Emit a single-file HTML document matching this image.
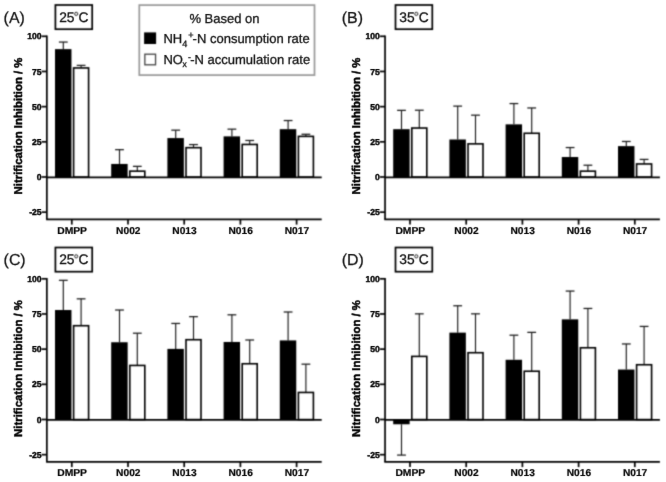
<!DOCTYPE html>
<html><head><meta charset="utf-8"><style>
html,body{margin:0;padding:0;background:#fff;width:666px;height:482px;overflow:hidden}
svg{display:block} text{font-variant-ligatures:none}
</style></head><body>
<svg width="666" height="482" viewBox="0 0 666 482" font-family="Liberation Sans, sans-serif" text-rendering="geometricPrecision">
<defs><filter id="bl" x="0" y="0" width="666" height="482" filterUnits="userSpaceOnUse" color-interpolation-filters="sRGB"><feConvolveMatrix order="3" kernelMatrix="0.03240 0.11520 0.03240 0.11520 0.40960 0.11520 0.03240 0.11520 0.03240" divisor="1" edgeMode="duplicate" preserveAlpha="false"/></filter>
<filter id="bt" x="0" y="0" width="666" height="482" filterUnits="userSpaceOnUse" color-interpolation-filters="sRGB"><feConvolveMatrix order="3" kernelMatrix="0.00360 0.05280 0.00360 0.05280 0.77440 0.05280 0.00360 0.05280 0.00360" divisor="1" edgeMode="duplicate" preserveAlpha="false"/></filter></defs>
<rect width="666" height="482" fill="#fff"/>
<g filter="url(#bl)">
<g transform="translate(0,0)">
<rect x="55.4" y="5.0" width="36.8" height="24.2" fill="none" stroke="#000" stroke-width="1.7"/>
<circle cx="76.20" cy="13.85" r="1.6" fill="none" stroke="#222" stroke-width="1.0"/>
<line x1="63.30" y1="49.13" x2="63.30" y2="42.06" stroke="#1a1a1a" stroke-width="1.15"/>
<line x1="58.90" y1="42.06" x2="67.70" y2="42.06" stroke="#1a1a1a" stroke-width="1.25"/>
<line x1="81.10" y1="67.94" x2="81.10" y2="65.39" stroke="#1a1a1a" stroke-width="1.15"/>
<line x1="76.70" y1="65.39" x2="85.50" y2="65.39" stroke="#1a1a1a" stroke-width="1.25"/>
<rect x="55.00" y="49.13" width="16.45" height="127.97" fill="#000"/>
<rect x="73.60" y="67.94" width="15.0" height="109.16" fill="#fff" stroke="#000" stroke-width="1.6"/>
<line x1="71.80" y1="219.4" x2="71.80" y2="224.6" stroke="#000" stroke-width="1.7"/>
<line x1="119.50" y1="163.95" x2="119.50" y2="149.67" stroke="#1a1a1a" stroke-width="1.15"/>
<line x1="115.10" y1="149.67" x2="123.90" y2="149.67" stroke="#1a1a1a" stroke-width="1.25"/>
<line x1="137.30" y1="171.16" x2="137.30" y2="166.35" stroke="#1a1a1a" stroke-width="1.15"/>
<line x1="132.90" y1="166.35" x2="141.70" y2="166.35" stroke="#1a1a1a" stroke-width="1.25"/>
<rect x="111.20" y="163.95" width="16.45" height="13.15" fill="#000"/>
<rect x="129.80" y="171.16" width="15.0" height="5.94" fill="#fff" stroke="#000" stroke-width="1.6"/>
<line x1="128.00" y1="219.4" x2="128.00" y2="224.6" stroke="#000" stroke-width="1.7"/>
<line x1="175.70" y1="138.07" x2="175.70" y2="130.16" stroke="#1a1a1a" stroke-width="1.15"/>
<line x1="171.30" y1="130.16" x2="180.10" y2="130.16" stroke="#1a1a1a" stroke-width="1.25"/>
<line x1="193.50" y1="147.69" x2="193.50" y2="144.58" stroke="#1a1a1a" stroke-width="1.15"/>
<line x1="189.10" y1="144.58" x2="197.90" y2="144.58" stroke="#1a1a1a" stroke-width="1.25"/>
<rect x="167.40" y="138.07" width="16.45" height="39.03" fill="#000"/>
<rect x="186.00" y="147.69" width="15.0" height="29.41" fill="#fff" stroke="#000" stroke-width="1.6"/>
<line x1="184.20" y1="219.4" x2="184.20" y2="224.6" stroke="#000" stroke-width="1.7"/>
<line x1="231.90" y1="136.38" x2="231.90" y2="129.17" stroke="#1a1a1a" stroke-width="1.15"/>
<line x1="227.50" y1="129.17" x2="236.30" y2="129.17" stroke="#1a1a1a" stroke-width="1.25"/>
<line x1="249.70" y1="144.44" x2="249.70" y2="140.48" stroke="#1a1a1a" stroke-width="1.15"/>
<line x1="245.30" y1="140.48" x2="254.10" y2="140.48" stroke="#1a1a1a" stroke-width="1.25"/>
<rect x="223.60" y="136.38" width="16.45" height="40.72" fill="#000"/>
<rect x="242.20" y="144.44" width="15.0" height="32.66" fill="#fff" stroke="#000" stroke-width="1.6"/>
<line x1="240.40" y1="219.4" x2="240.40" y2="224.6" stroke="#000" stroke-width="1.7"/>
<line x1="288.10" y1="129.17" x2="288.10" y2="120.54" stroke="#1a1a1a" stroke-width="1.15"/>
<line x1="283.70" y1="120.54" x2="292.50" y2="120.54" stroke="#1a1a1a" stroke-width="1.25"/>
<line x1="305.90" y1="136.38" x2="305.90" y2="134.26" stroke="#1a1a1a" stroke-width="1.15"/>
<line x1="301.50" y1="134.26" x2="310.30" y2="134.26" stroke="#1a1a1a" stroke-width="1.25"/>
<rect x="279.80" y="129.17" width="16.45" height="47.93" fill="#000"/>
<rect x="298.40" y="136.38" width="15.0" height="40.72" fill="#fff" stroke="#000" stroke-width="1.6"/>
<line x1="296.60" y1="219.4" x2="296.60" y2="224.6" stroke="#000" stroke-width="1.7"/>
<line x1="46.85" y1="177.29999999999998" x2="321.7" y2="177.29999999999998" stroke="#000" stroke-width="1.7"/>
<line x1="46.1" y1="219.4" x2="321.7" y2="219.4" stroke="#000" stroke-width="1.7"/>
<line x1="46.85" y1="35.55" x2="46.85" y2="219.4" stroke="#000" stroke-width="1.7"/>
<line x1="41.5" y1="36.30" x2="46.85" y2="36.30" stroke="#000" stroke-width="1.7"/>
<line x1="41.5" y1="71.47" x2="46.85" y2="71.47" stroke="#000" stroke-width="1.7"/>
<line x1="41.5" y1="106.65" x2="46.85" y2="106.65" stroke="#000" stroke-width="1.7"/>
<line x1="41.5" y1="141.82" x2="46.85" y2="141.82" stroke="#000" stroke-width="1.7"/>
<line x1="41.5" y1="177.00" x2="46.85" y2="177.00" stroke="#000" stroke-width="1.7"/>
<line x1="41.5" y1="212.18" x2="46.85" y2="212.18" stroke="#000" stroke-width="1.7"/>
</g>
<g transform="translate(338.2,0)">
<rect x="57.30000000000001" y="5.0" width="36.8" height="24.2" fill="none" stroke="#000" stroke-width="1.7"/>
<circle cx="78.10" cy="13.85" r="1.6" fill="none" stroke="#222" stroke-width="1.0"/>
<line x1="63.30" y1="129.17" x2="63.30" y2="110.36" stroke="#1a1a1a" stroke-width="1.15"/>
<line x1="58.90" y1="110.36" x2="67.70" y2="110.36" stroke="#1a1a1a" stroke-width="1.25"/>
<line x1="81.10" y1="128.03" x2="81.10" y2="110.22" stroke="#1a1a1a" stroke-width="1.15"/>
<line x1="76.70" y1="110.22" x2="85.50" y2="110.22" stroke="#1a1a1a" stroke-width="1.25"/>
<rect x="55.00" y="129.17" width="16.45" height="47.93" fill="#000"/>
<rect x="73.60" y="128.03" width="15.0" height="49.07" fill="#fff" stroke="#000" stroke-width="1.6"/>
<line x1="71.80" y1="219.4" x2="71.80" y2="224.6" stroke="#000" stroke-width="1.7"/>
<line x1="119.50" y1="139.49" x2="119.50" y2="106.12" stroke="#1a1a1a" stroke-width="1.15"/>
<line x1="115.10" y1="106.12" x2="123.90" y2="106.12" stroke="#1a1a1a" stroke-width="1.25"/>
<line x1="137.30" y1="143.87" x2="137.30" y2="115.17" stroke="#1a1a1a" stroke-width="1.15"/>
<line x1="132.90" y1="115.17" x2="141.70" y2="115.17" stroke="#1a1a1a" stroke-width="1.25"/>
<rect x="111.20" y="139.49" width="16.45" height="37.61" fill="#000"/>
<rect x="129.80" y="143.87" width="15.0" height="33.23" fill="#fff" stroke="#000" stroke-width="1.6"/>
<line x1="128.00" y1="219.4" x2="128.00" y2="224.6" stroke="#000" stroke-width="1.7"/>
<line x1="175.70" y1="124.36" x2="175.70" y2="103.57" stroke="#1a1a1a" stroke-width="1.15"/>
<line x1="171.30" y1="103.57" x2="180.10" y2="103.57" stroke="#1a1a1a" stroke-width="1.25"/>
<line x1="193.50" y1="133.27" x2="193.50" y2="107.96" stroke="#1a1a1a" stroke-width="1.15"/>
<line x1="189.10" y1="107.96" x2="197.90" y2="107.96" stroke="#1a1a1a" stroke-width="1.25"/>
<rect x="167.40" y="124.36" width="16.45" height="52.74" fill="#000"/>
<rect x="186.00" y="133.27" width="15.0" height="43.83" fill="#fff" stroke="#000" stroke-width="1.6"/>
<line x1="184.20" y1="219.4" x2="184.20" y2="224.6" stroke="#000" stroke-width="1.7"/>
<line x1="231.90" y1="157.02" x2="231.90" y2="147.55" stroke="#1a1a1a" stroke-width="1.15"/>
<line x1="227.50" y1="147.55" x2="236.30" y2="147.55" stroke="#1a1a1a" stroke-width="1.25"/>
<line x1="249.70" y1="171.16" x2="249.70" y2="165.22" stroke="#1a1a1a" stroke-width="1.15"/>
<line x1="245.30" y1="165.22" x2="254.10" y2="165.22" stroke="#1a1a1a" stroke-width="1.25"/>
<rect x="223.60" y="157.02" width="16.45" height="20.08" fill="#000"/>
<rect x="242.20" y="171.16" width="15.0" height="5.94" fill="#fff" stroke="#000" stroke-width="1.6"/>
<line x1="240.40" y1="219.4" x2="240.40" y2="224.6" stroke="#000" stroke-width="1.7"/>
<line x1="288.10" y1="146.13" x2="288.10" y2="141.47" stroke="#1a1a1a" stroke-width="1.15"/>
<line x1="283.70" y1="141.47" x2="292.50" y2="141.47" stroke="#1a1a1a" stroke-width="1.25"/>
<line x1="305.90" y1="163.95" x2="305.90" y2="159.42" stroke="#1a1a1a" stroke-width="1.15"/>
<line x1="301.50" y1="159.42" x2="310.30" y2="159.42" stroke="#1a1a1a" stroke-width="1.25"/>
<rect x="279.80" y="146.13" width="16.45" height="30.97" fill="#000"/>
<rect x="298.40" y="163.95" width="15.0" height="13.15" fill="#fff" stroke="#000" stroke-width="1.6"/>
<line x1="296.60" y1="219.4" x2="296.60" y2="224.6" stroke="#000" stroke-width="1.7"/>
<line x1="46.85" y1="177.29999999999998" x2="321.7" y2="177.29999999999998" stroke="#000" stroke-width="1.7"/>
<line x1="46.1" y1="219.4" x2="321.7" y2="219.4" stroke="#000" stroke-width="1.7"/>
<line x1="46.85" y1="35.55" x2="46.85" y2="219.4" stroke="#000" stroke-width="1.7"/>
<line x1="41.5" y1="36.30" x2="46.85" y2="36.30" stroke="#000" stroke-width="1.7"/>
<line x1="41.5" y1="71.47" x2="46.85" y2="71.47" stroke="#000" stroke-width="1.7"/>
<line x1="41.5" y1="106.65" x2="46.85" y2="106.65" stroke="#000" stroke-width="1.7"/>
<line x1="41.5" y1="141.82" x2="46.85" y2="141.82" stroke="#000" stroke-width="1.7"/>
<line x1="41.5" y1="177.00" x2="46.85" y2="177.00" stroke="#000" stroke-width="1.7"/>
<line x1="41.5" y1="212.18" x2="46.85" y2="212.18" stroke="#000" stroke-width="1.7"/>
</g>
<g transform="translate(0,242.5)">
<rect x="55.4" y="5.0" width="36.8" height="24.2" fill="none" stroke="#000" stroke-width="1.7"/>
<circle cx="76.20" cy="13.85" r="1.6" fill="none" stroke="#222" stroke-width="1.0"/>
<line x1="63.30" y1="67.52" x2="63.30" y2="37.82" stroke="#1a1a1a" stroke-width="1.15"/>
<line x1="58.90" y1="37.82" x2="67.70" y2="37.82" stroke="#1a1a1a" stroke-width="1.25"/>
<line x1="81.10" y1="83.21" x2="81.10" y2="56.34" stroke="#1a1a1a" stroke-width="1.15"/>
<line x1="76.70" y1="56.34" x2="85.50" y2="56.34" stroke="#1a1a1a" stroke-width="1.25"/>
<rect x="55.00" y="67.52" width="16.45" height="109.58" fill="#000"/>
<rect x="73.60" y="83.21" width="15.0" height="93.89" fill="#fff" stroke="#000" stroke-width="1.6"/>
<line x1="71.80" y1="219.4" x2="71.80" y2="224.6" stroke="#000" stroke-width="1.7"/>
<line x1="119.50" y1="99.75" x2="119.50" y2="67.52" stroke="#1a1a1a" stroke-width="1.15"/>
<line x1="115.10" y1="67.52" x2="123.90" y2="67.52" stroke="#1a1a1a" stroke-width="1.25"/>
<line x1="137.30" y1="122.94" x2="137.30" y2="90.70" stroke="#1a1a1a" stroke-width="1.15"/>
<line x1="132.90" y1="90.70" x2="141.70" y2="90.70" stroke="#1a1a1a" stroke-width="1.25"/>
<rect x="111.20" y="99.75" width="16.45" height="77.35" fill="#000"/>
<rect x="129.80" y="122.94" width="15.0" height="54.16" fill="#fff" stroke="#000" stroke-width="1.6"/>
<line x1="128.00" y1="219.4" x2="128.00" y2="224.6" stroke="#000" stroke-width="1.7"/>
<line x1="175.70" y1="106.40" x2="175.70" y2="80.95" stroke="#1a1a1a" stroke-width="1.15"/>
<line x1="171.30" y1="80.95" x2="180.10" y2="80.95" stroke="#1a1a1a" stroke-width="1.25"/>
<line x1="193.50" y1="97.21" x2="193.50" y2="74.16" stroke="#1a1a1a" stroke-width="1.15"/>
<line x1="189.10" y1="74.16" x2="197.90" y2="74.16" stroke="#1a1a1a" stroke-width="1.25"/>
<rect x="167.40" y="106.40" width="16.45" height="70.70" fill="#000"/>
<rect x="186.00" y="97.21" width="15.0" height="79.89" fill="#fff" stroke="#000" stroke-width="1.6"/>
<line x1="184.20" y1="219.4" x2="184.20" y2="224.6" stroke="#000" stroke-width="1.7"/>
<line x1="231.90" y1="99.47" x2="231.90" y2="72.32" stroke="#1a1a1a" stroke-width="1.15"/>
<line x1="227.50" y1="72.32" x2="236.30" y2="72.32" stroke="#1a1a1a" stroke-width="1.25"/>
<line x1="249.70" y1="121.25" x2="249.70" y2="97.49" stroke="#1a1a1a" stroke-width="1.15"/>
<line x1="245.30" y1="97.49" x2="254.10" y2="97.49" stroke="#1a1a1a" stroke-width="1.25"/>
<rect x="223.60" y="99.47" width="16.45" height="77.63" fill="#000"/>
<rect x="242.20" y="121.25" width="15.0" height="55.85" fill="#fff" stroke="#000" stroke-width="1.6"/>
<line x1="240.40" y1="219.4" x2="240.40" y2="224.6" stroke="#000" stroke-width="1.7"/>
<line x1="288.10" y1="97.92" x2="288.10" y2="69.49" stroke="#1a1a1a" stroke-width="1.15"/>
<line x1="283.70" y1="69.49" x2="292.50" y2="69.49" stroke="#1a1a1a" stroke-width="1.25"/>
<line x1="305.90" y1="149.95" x2="305.90" y2="121.67" stroke="#1a1a1a" stroke-width="1.15"/>
<line x1="301.50" y1="121.67" x2="310.30" y2="121.67" stroke="#1a1a1a" stroke-width="1.25"/>
<rect x="279.80" y="97.92" width="16.45" height="79.18" fill="#000"/>
<rect x="298.40" y="149.95" width="15.0" height="27.15" fill="#fff" stroke="#000" stroke-width="1.6"/>
<line x1="296.60" y1="219.4" x2="296.60" y2="224.6" stroke="#000" stroke-width="1.7"/>
<line x1="46.85" y1="177.29999999999998" x2="321.7" y2="177.29999999999998" stroke="#000" stroke-width="1.7"/>
<line x1="46.1" y1="219.4" x2="321.7" y2="219.4" stroke="#000" stroke-width="1.7"/>
<line x1="46.85" y1="35.55" x2="46.85" y2="219.4" stroke="#000" stroke-width="1.7"/>
<line x1="41.5" y1="36.30" x2="46.85" y2="36.30" stroke="#000" stroke-width="1.7"/>
<line x1="41.5" y1="71.47" x2="46.85" y2="71.47" stroke="#000" stroke-width="1.7"/>
<line x1="41.5" y1="106.65" x2="46.85" y2="106.65" stroke="#000" stroke-width="1.7"/>
<line x1="41.5" y1="141.82" x2="46.85" y2="141.82" stroke="#000" stroke-width="1.7"/>
<line x1="41.5" y1="177.00" x2="46.85" y2="177.00" stroke="#000" stroke-width="1.7"/>
<line x1="41.5" y1="212.18" x2="46.85" y2="212.18" stroke="#000" stroke-width="1.7"/>
</g>
<g transform="translate(338.2,242.5)">
<rect x="57.30000000000001" y="5.0" width="36.8" height="24.2" fill="none" stroke="#000" stroke-width="1.7"/>
<circle cx="78.10" cy="13.85" r="1.6" fill="none" stroke="#222" stroke-width="1.0"/>
<line x1="63.30" y1="181.77" x2="63.30" y2="212.59" stroke="#1a1a1a" stroke-width="1.15"/>
<line x1="58.90" y1="212.59" x2="67.70" y2="212.59" stroke="#1a1a1a" stroke-width="1.25"/>
<line x1="81.10" y1="113.89" x2="81.10" y2="71.33" stroke="#1a1a1a" stroke-width="1.15"/>
<line x1="76.70" y1="71.33" x2="85.50" y2="71.33" stroke="#1a1a1a" stroke-width="1.25"/>
<rect x="55.00" y="177.10" width="16.45" height="4.67" fill="#000"/>
<rect x="73.60" y="113.89" width="15.0" height="63.21" fill="#fff" stroke="#000" stroke-width="1.6"/>
<line x1="71.80" y1="219.4" x2="71.80" y2="224.6" stroke="#000" stroke-width="1.7"/>
<line x1="119.50" y1="90.14" x2="119.50" y2="63.27" stroke="#1a1a1a" stroke-width="1.15"/>
<line x1="115.10" y1="63.27" x2="123.90" y2="63.27" stroke="#1a1a1a" stroke-width="1.25"/>
<line x1="137.30" y1="110.22" x2="137.30" y2="71.33" stroke="#1a1a1a" stroke-width="1.15"/>
<line x1="132.90" y1="71.33" x2="141.70" y2="71.33" stroke="#1a1a1a" stroke-width="1.25"/>
<rect x="111.20" y="90.14" width="16.45" height="86.96" fill="#000"/>
<rect x="129.80" y="110.22" width="15.0" height="66.88" fill="#fff" stroke="#000" stroke-width="1.6"/>
<line x1="128.00" y1="219.4" x2="128.00" y2="224.6" stroke="#000" stroke-width="1.7"/>
<line x1="175.70" y1="117.29" x2="175.70" y2="92.68" stroke="#1a1a1a" stroke-width="1.15"/>
<line x1="171.30" y1="92.68" x2="180.10" y2="92.68" stroke="#1a1a1a" stroke-width="1.25"/>
<line x1="193.50" y1="128.74" x2="193.50" y2="89.86" stroke="#1a1a1a" stroke-width="1.15"/>
<line x1="189.10" y1="89.86" x2="197.90" y2="89.86" stroke="#1a1a1a" stroke-width="1.25"/>
<rect x="167.40" y="117.29" width="16.45" height="59.81" fill="#000"/>
<rect x="186.00" y="128.74" width="15.0" height="48.36" fill="#fff" stroke="#000" stroke-width="1.6"/>
<line x1="184.20" y1="219.4" x2="184.20" y2="224.6" stroke="#000" stroke-width="1.7"/>
<line x1="231.90" y1="76.85" x2="231.90" y2="48.57" stroke="#1a1a1a" stroke-width="1.15"/>
<line x1="227.50" y1="48.57" x2="236.30" y2="48.57" stroke="#1a1a1a" stroke-width="1.25"/>
<line x1="249.70" y1="105.27" x2="249.70" y2="65.96" stroke="#1a1a1a" stroke-width="1.15"/>
<line x1="245.30" y1="65.96" x2="254.10" y2="65.96" stroke="#1a1a1a" stroke-width="1.25"/>
<rect x="223.60" y="76.85" width="16.45" height="100.25" fill="#000"/>
<rect x="242.20" y="105.27" width="15.0" height="71.83" fill="#fff" stroke="#000" stroke-width="1.6"/>
<line x1="240.40" y1="219.4" x2="240.40" y2="224.6" stroke="#000" stroke-width="1.7"/>
<line x1="288.10" y1="127.04" x2="288.10" y2="101.45" stroke="#1a1a1a" stroke-width="1.15"/>
<line x1="283.70" y1="101.45" x2="292.50" y2="101.45" stroke="#1a1a1a" stroke-width="1.25"/>
<line x1="305.90" y1="122.24" x2="305.90" y2="83.92" stroke="#1a1a1a" stroke-width="1.15"/>
<line x1="301.50" y1="83.92" x2="310.30" y2="83.92" stroke="#1a1a1a" stroke-width="1.25"/>
<rect x="279.80" y="127.04" width="16.45" height="50.06" fill="#000"/>
<rect x="298.40" y="122.24" width="15.0" height="54.86" fill="#fff" stroke="#000" stroke-width="1.6"/>
<line x1="296.60" y1="219.4" x2="296.60" y2="224.6" stroke="#000" stroke-width="1.7"/>
<line x1="46.85" y1="177.29999999999998" x2="321.7" y2="177.29999999999998" stroke="#000" stroke-width="1.7"/>
<line x1="46.1" y1="219.4" x2="321.7" y2="219.4" stroke="#000" stroke-width="1.7"/>
<line x1="46.85" y1="35.55" x2="46.85" y2="219.4" stroke="#000" stroke-width="1.7"/>
<line x1="41.5" y1="36.30" x2="46.85" y2="36.30" stroke="#000" stroke-width="1.7"/>
<line x1="41.5" y1="71.47" x2="46.85" y2="71.47" stroke="#000" stroke-width="1.7"/>
<line x1="41.5" y1="106.65" x2="46.85" y2="106.65" stroke="#000" stroke-width="1.7"/>
<line x1="41.5" y1="141.82" x2="46.85" y2="141.82" stroke="#000" stroke-width="1.7"/>
<line x1="41.5" y1="177.00" x2="46.85" y2="177.00" stroke="#000" stroke-width="1.7"/>
<line x1="41.5" y1="212.18" x2="46.85" y2="212.18" stroke="#000" stroke-width="1.7"/>
</g>
<rect x="139.3" y="5.1" width="175.2" height="70.0" fill="#fff" stroke="#999" stroke-width="1.7"/>
<rect x="144.1" y="32.4" width="12" height="11.6" fill="#000"/>
<rect x="144.85" y="54.2" width="10.7" height="10.6" fill="#fff" stroke="#444" stroke-width="1.3"/>
</g>
<g filter="url(#bt)">
<g transform="translate(0,0)">
<text x="3.6" y="22.8" font-size="15.9" fill="#111" stroke="#111" stroke-width="0.25">(A)</text>
<text x="59.20" y="21.7" font-size="13.8" fill="#111" stroke="#111" stroke-width="0.3">25</text>
<text x="78.60" y="21.7" font-size="13.8" fill="#111" stroke="#111" stroke-width="0.3">C</text>
<text transform="translate(21.95,126.0) rotate(-90)" font-size="11.35" font-weight="bold" text-anchor="middle" fill="#000" stroke="#000" stroke-width="0.45">Nitrification Inhibition / %</text>
<text x="72.10" y="233.6" font-size="10.0" textLength="29.80" lengthAdjust="spacingAndGlyphs" font-weight="bold" text-anchor="middle" fill="#000" stroke="#000" stroke-width="0.2">DMPP</text>
<text x="128.30" y="233.6" font-size="10.0" textLength="24.38" lengthAdjust="spacingAndGlyphs" font-weight="bold" text-anchor="middle" fill="#000" stroke="#000" stroke-width="0.2">N002</text>
<text x="184.50" y="233.6" font-size="10.0" textLength="24.38" lengthAdjust="spacingAndGlyphs" font-weight="bold" text-anchor="middle" fill="#000" stroke="#000" stroke-width="0.2">N013</text>
<text x="240.70" y="233.6" font-size="10.0" textLength="24.38" lengthAdjust="spacingAndGlyphs" font-weight="bold" text-anchor="middle" fill="#000" stroke="#000" stroke-width="0.2">N016</text>
<text x="296.90" y="233.6" font-size="10.0" textLength="24.38" lengthAdjust="spacingAndGlyphs" font-weight="bold" text-anchor="middle" fill="#000" stroke="#000" stroke-width="0.2">N017</text>
<text x="41.6" y="39.40" font-size="8.6" font-weight="bold" text-anchor="end" fill="#000" stroke="#000" stroke-width="0.4">100</text>
<text x="41.6" y="74.57" font-size="8.6" font-weight="bold" text-anchor="end" fill="#000" stroke="#000" stroke-width="0.4">75</text>
<text x="41.6" y="109.75" font-size="8.6" font-weight="bold" text-anchor="end" fill="#000" stroke="#000" stroke-width="0.4">50</text>
<text x="41.6" y="144.92" font-size="8.6" font-weight="bold" text-anchor="end" fill="#000" stroke="#000" stroke-width="0.4">25</text>
<text x="41.6" y="180.10" font-size="8.6" font-weight="bold" text-anchor="end" fill="#000" stroke="#000" stroke-width="0.4">0</text>
<text x="41.6" y="215.28" font-size="8.6" font-weight="bold" text-anchor="end" fill="#000" stroke="#000" stroke-width="0.4">-25</text>
</g>
<g transform="translate(338.2,0)">
<text x="3.6" y="22.8" font-size="15.9" fill="#111" stroke="#111" stroke-width="0.25">(B)</text>
<text x="61.10" y="21.7" font-size="13.8" fill="#111" stroke="#111" stroke-width="0.3">35</text>
<text x="80.50" y="21.7" font-size="13.8" fill="#111" stroke="#111" stroke-width="0.3">C</text>
<text transform="translate(21.95,126.0) rotate(-90)" font-size="11.35" font-weight="bold" text-anchor="middle" fill="#000" stroke="#000" stroke-width="0.45">Nitrification Inhibition / %</text>
<text x="72.10" y="233.6" font-size="10.0" textLength="29.80" lengthAdjust="spacingAndGlyphs" font-weight="bold" text-anchor="middle" fill="#000" stroke="#000" stroke-width="0.2">DMPP</text>
<text x="128.30" y="233.6" font-size="10.0" textLength="24.38" lengthAdjust="spacingAndGlyphs" font-weight="bold" text-anchor="middle" fill="#000" stroke="#000" stroke-width="0.2">N002</text>
<text x="184.50" y="233.6" font-size="10.0" textLength="24.38" lengthAdjust="spacingAndGlyphs" font-weight="bold" text-anchor="middle" fill="#000" stroke="#000" stroke-width="0.2">N013</text>
<text x="240.70" y="233.6" font-size="10.0" textLength="24.38" lengthAdjust="spacingAndGlyphs" font-weight="bold" text-anchor="middle" fill="#000" stroke="#000" stroke-width="0.2">N016</text>
<text x="296.90" y="233.6" font-size="10.0" textLength="24.38" lengthAdjust="spacingAndGlyphs" font-weight="bold" text-anchor="middle" fill="#000" stroke="#000" stroke-width="0.2">N017</text>
<text x="41.6" y="39.40" font-size="8.6" font-weight="bold" text-anchor="end" fill="#000" stroke="#000" stroke-width="0.4">100</text>
<text x="41.6" y="74.57" font-size="8.6" font-weight="bold" text-anchor="end" fill="#000" stroke="#000" stroke-width="0.4">75</text>
<text x="41.6" y="109.75" font-size="8.6" font-weight="bold" text-anchor="end" fill="#000" stroke="#000" stroke-width="0.4">50</text>
<text x="41.6" y="144.92" font-size="8.6" font-weight="bold" text-anchor="end" fill="#000" stroke="#000" stroke-width="0.4">25</text>
<text x="41.6" y="180.10" font-size="8.6" font-weight="bold" text-anchor="end" fill="#000" stroke="#000" stroke-width="0.4">0</text>
<text x="41.6" y="215.28" font-size="8.6" font-weight="bold" text-anchor="end" fill="#000" stroke="#000" stroke-width="0.4">-25</text>
</g>
<g transform="translate(0,242.5)">
<text x="3.6" y="22.8" font-size="15.9" fill="#111" stroke="#111" stroke-width="0.25">(C)</text>
<text x="59.20" y="21.7" font-size="13.8" fill="#111" stroke="#111" stroke-width="0.3">25</text>
<text x="78.60" y="21.7" font-size="13.8" fill="#111" stroke="#111" stroke-width="0.3">C</text>
<text transform="translate(21.95,126.0) rotate(-90)" font-size="11.35" font-weight="bold" text-anchor="middle" fill="#000" stroke="#000" stroke-width="0.45">Nitrification Inhibition / %</text>
<text x="72.10" y="233.6" font-size="10.0" textLength="29.80" lengthAdjust="spacingAndGlyphs" font-weight="bold" text-anchor="middle" fill="#000" stroke="#000" stroke-width="0.2">DMPP</text>
<text x="128.30" y="233.6" font-size="10.0" textLength="24.38" lengthAdjust="spacingAndGlyphs" font-weight="bold" text-anchor="middle" fill="#000" stroke="#000" stroke-width="0.2">N002</text>
<text x="184.50" y="233.6" font-size="10.0" textLength="24.38" lengthAdjust="spacingAndGlyphs" font-weight="bold" text-anchor="middle" fill="#000" stroke="#000" stroke-width="0.2">N013</text>
<text x="240.70" y="233.6" font-size="10.0" textLength="24.38" lengthAdjust="spacingAndGlyphs" font-weight="bold" text-anchor="middle" fill="#000" stroke="#000" stroke-width="0.2">N016</text>
<text x="296.90" y="233.6" font-size="10.0" textLength="24.38" lengthAdjust="spacingAndGlyphs" font-weight="bold" text-anchor="middle" fill="#000" stroke="#000" stroke-width="0.2">N017</text>
<text x="41.6" y="39.40" font-size="8.6" font-weight="bold" text-anchor="end" fill="#000" stroke="#000" stroke-width="0.4">100</text>
<text x="41.6" y="74.57" font-size="8.6" font-weight="bold" text-anchor="end" fill="#000" stroke="#000" stroke-width="0.4">75</text>
<text x="41.6" y="109.75" font-size="8.6" font-weight="bold" text-anchor="end" fill="#000" stroke="#000" stroke-width="0.4">50</text>
<text x="41.6" y="144.92" font-size="8.6" font-weight="bold" text-anchor="end" fill="#000" stroke="#000" stroke-width="0.4">25</text>
<text x="41.6" y="180.10" font-size="8.6" font-weight="bold" text-anchor="end" fill="#000" stroke="#000" stroke-width="0.4">0</text>
<text x="41.6" y="215.28" font-size="8.6" font-weight="bold" text-anchor="end" fill="#000" stroke="#000" stroke-width="0.4">-25</text>
</g>
<g transform="translate(338.2,242.5)">
<text x="3.6" y="22.8" font-size="15.9" fill="#111" stroke="#111" stroke-width="0.25">(D)</text>
<text x="61.10" y="21.7" font-size="13.8" fill="#111" stroke="#111" stroke-width="0.3">35</text>
<text x="80.50" y="21.7" font-size="13.8" fill="#111" stroke="#111" stroke-width="0.3">C</text>
<text transform="translate(21.95,126.0) rotate(-90)" font-size="11.35" font-weight="bold" text-anchor="middle" fill="#000" stroke="#000" stroke-width="0.45">Nitrification Inhibition / %</text>
<text x="72.10" y="233.6" font-size="10.0" textLength="29.80" lengthAdjust="spacingAndGlyphs" font-weight="bold" text-anchor="middle" fill="#000" stroke="#000" stroke-width="0.2">DMPP</text>
<text x="128.30" y="233.6" font-size="10.0" textLength="24.38" lengthAdjust="spacingAndGlyphs" font-weight="bold" text-anchor="middle" fill="#000" stroke="#000" stroke-width="0.2">N002</text>
<text x="184.50" y="233.6" font-size="10.0" textLength="24.38" lengthAdjust="spacingAndGlyphs" font-weight="bold" text-anchor="middle" fill="#000" stroke="#000" stroke-width="0.2">N013</text>
<text x="240.70" y="233.6" font-size="10.0" textLength="24.38" lengthAdjust="spacingAndGlyphs" font-weight="bold" text-anchor="middle" fill="#000" stroke="#000" stroke-width="0.2">N016</text>
<text x="296.90" y="233.6" font-size="10.0" textLength="24.38" lengthAdjust="spacingAndGlyphs" font-weight="bold" text-anchor="middle" fill="#000" stroke="#000" stroke-width="0.2">N017</text>
<text x="41.6" y="39.40" font-size="8.6" font-weight="bold" text-anchor="end" fill="#000" stroke="#000" stroke-width="0.4">100</text>
<text x="41.6" y="74.57" font-size="8.6" font-weight="bold" text-anchor="end" fill="#000" stroke="#000" stroke-width="0.4">75</text>
<text x="41.6" y="109.75" font-size="8.6" font-weight="bold" text-anchor="end" fill="#000" stroke="#000" stroke-width="0.4">50</text>
<text x="41.6" y="144.92" font-size="8.6" font-weight="bold" text-anchor="end" fill="#000" stroke="#000" stroke-width="0.4">25</text>
<text x="41.6" y="180.10" font-size="8.6" font-weight="bold" text-anchor="end" fill="#000" stroke="#000" stroke-width="0.4">0</text>
<text x="41.6" y="215.28" font-size="8.6" font-weight="bold" text-anchor="end" fill="#000" stroke="#000" stroke-width="0.4">-25</text>
</g>
<text x="189.4" y="22.8" font-size="13" fill="#111" stroke="#111" stroke-width="0.3">% Based on</text>
<text y="43.4" font-size="13" fill="#111" stroke="#111" stroke-width="0.3"><tspan x="163.4">NH</tspan><tspan x="182.2" y="46.9" font-size="9.1">4</tspan><tspan x="188.2" y="37.8" font-size="9.1">+</tspan><tspan x="192.6" y="43.4">-N consumption rate</tspan></text>
<text y="63.7" font-size="13" fill="#111" stroke="#111" stroke-width="0.3"><tspan x="163.4">NO</tspan><tspan x="182.4" y="67.4" font-size="8.5">x</tspan><tspan x="188.0" y="59.7" font-size="8.8">-</tspan><tspan x="190.2" y="63.7">-N accumulation rate</tspan></text>
</g>
</svg>
</body></html>
